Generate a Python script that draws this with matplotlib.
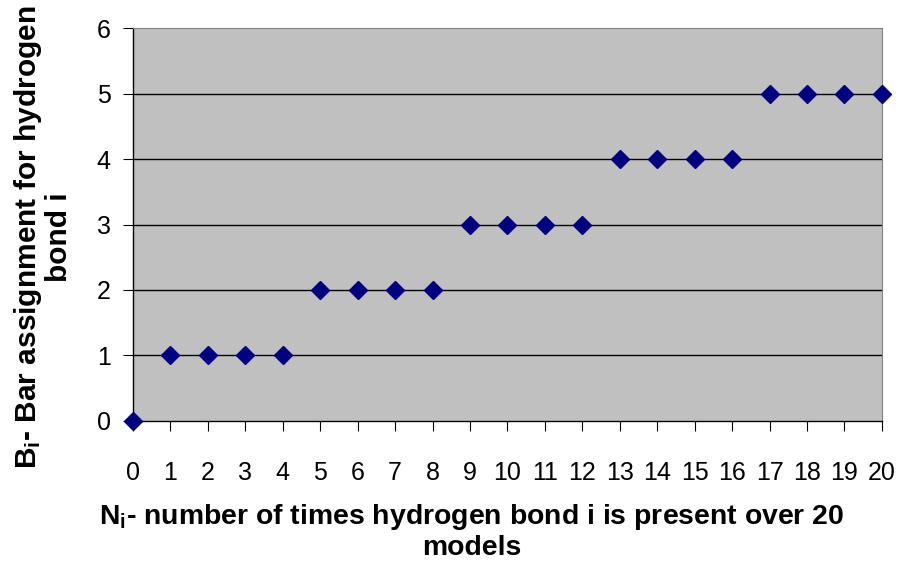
import matplotlib
matplotlib.use("Agg")
import matplotlib.pyplot as plt

plt.rcParams['font.family'] = ['Liberation Sans', 'DejaVu Sans']
plt.rcParams['mathtext.fontset'] = 'custom'
plt.rcParams['mathtext.rm'] = 'Liberation Sans'
plt.rcParams['mathtext.bf'] = 'Liberation Sans:bold'

# data
n_times = [0, 1, 2, 3, 4, 5, 6, 7, 8, 9, 10, 11, 12, 13, 14, 15, 16, 17, 18, 19, 20]
bar_assign = [0, 1, 1, 1, 1, 2, 2, 2, 2, 3, 3, 3, 3, 4, 4, 4, 4, 5, 5, 5, 5]

fig = plt.figure(figsize=(8.99, 5.61), dpi=100)
ax = fig.add_axes([0.148, 0.2496, 0.833, 0.7004])
ax.set_facecolor('#C0C0C0')

ax.plot(n_times, bar_assign, linestyle='none', marker='D', markersize=9,
        color='#000080', clip_on=False, zorder=3)

ax.set_xlim(0, 20)
ax.set_ylim(0, 6)
ax.set_xticks(range(0, 21))
ax.set_yticks(range(0, 7))
for y in range(1, 6):
    ax.axhline(y, color='black', linewidth=1, zorder=1)

for s in ['top', 'right']:
    ax.spines[s].set_color('#808080')
for s in ['left', 'bottom']:
    ax.spines[s].set_color('black')
    ax.spines[s].set_linewidth(1)

ax.tick_params(axis='x', direction='out', length=7, pad=22, labelsize=18)
ax.tick_params(axis='y', direction='out', length=7, pad=9, labelsize=18)

ax.set_xlabel(r'$\mathbf{N_i}$- number of times hydrogen bond i is present over 20' + '\nmodels',
              fontsize=20.4, fontweight='bold', linespacing=1.15, va='top',
              multialignment='center')
ax.xaxis.set_label_coords(0.452, -0.205)
ax.set_ylabel(r'$\mathbf{B_i}$- Bar assignment for hydrogen' + '\nbond i',
              fontsize=21.5, fontweight='bold', linespacing=1.05,
              multialignment='center')
ax.yaxis.set_label_coords(-0.08, 0.468)

fig.savefig('out.png', dpi=100)
